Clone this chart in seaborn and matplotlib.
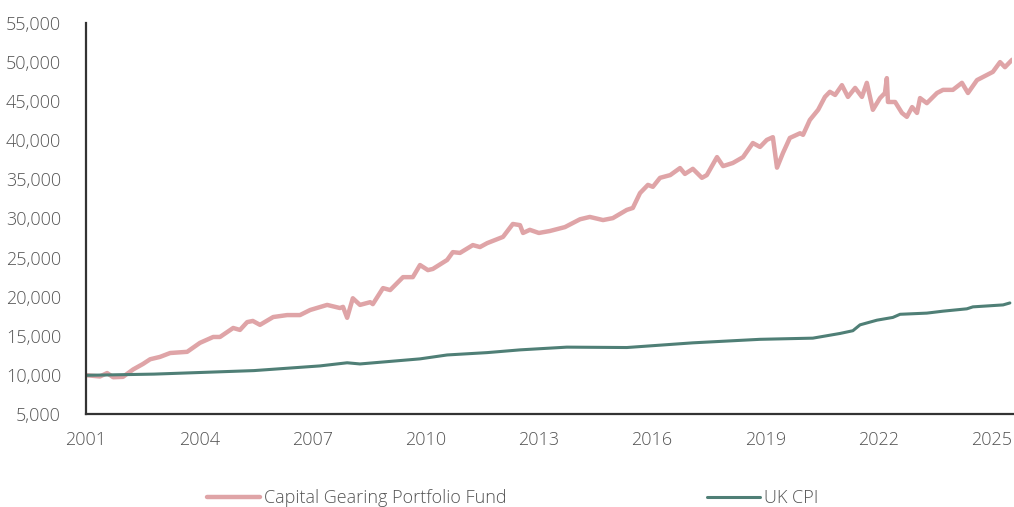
import pandas as pd
import matplotlib.pyplot as plt
import seaborn as sns

# fund values (decimal year, value)
fund_years = [2001.03, 2001.37, 2001.56, 2001.72, 2001.98, 2002.25, 2002.51, 2002.70, 2002.96, 2003.23,
              2003.68, 2004.02, 2004.37, 2004.55, 2004.90, 2005.08, 2005.27, 2005.42, 2005.61, 2005.96,
              2006.33, 2006.67, 2006.94, 2007.39, 2007.73, 2007.81, 2007.92, 2008.07, 2008.26, 2008.53,
              2008.60, 2008.87, 2009.06, 2009.40, 2009.66, 2009.85, 2010.06, 2010.19, 2010.57, 2010.72,
              2010.91, 2011.25, 2011.44, 2011.63, 2012.05, 2012.31, 2012.50, 2012.58, 2012.76, 2013.00,
              2013.29, 2013.69, 2014.09, 2014.35, 2014.70, 2014.96, 2015.33, 2015.49, 2015.68, 2015.89,
              2016.02, 2016.21, 2016.48, 2016.74, 2016.87, 2017.08, 2017.32, 2017.45, 2017.72, 2017.88,
              2018.14, 2018.41, 2018.67, 2018.86, 2019.04, 2019.20, 2019.31, 2019.47, 2019.65, 2019.92,
              2020.00, 2020.18, 2020.40, 2020.58, 2020.71, 2020.85, 2021.03, 2021.19, 2021.38, 2021.56,
              2021.69, 2021.85, 2022.04, 2022.17, 2022.22, 2022.25, 2022.44, 2022.62, 2022.75, 2022.89,
              2023.02, 2023.10, 2023.28, 2023.55, 2023.71, 2023.97, 2024.21, 2024.37, 2024.61, 2024.87,
              2025.03, 2025.22, 2025.35, 2025.54]
fund_values = [9950, 9800, 10240, 9700, 9750, 10700, 11400, 12000, 12300, 12800,
               12950, 14100, 14850, 14850, 16000, 15750, 16750, 16900, 16400, 17400,
               17650, 17650, 18300, 18950, 18550, 18700, 17300, 19800, 18950, 19300,
               19050, 21100, 20850, 22500, 22500, 24050, 23400, 23550, 24700, 25700,
               25600, 26600, 26350, 26850, 27650, 29300, 29150, 28150, 28550, 28150,
               28400, 28900, 29900, 30200, 29800, 30050, 31100, 31350, 33250, 34300,
               34050, 35200, 35550, 36450, 35700, 36350, 35200, 35550, 37850, 36700,
               37100, 37850, 39650, 39150, 40050, 40400, 36500, 38400, 40300, 40900,
               40700, 42600, 43900, 45550, 46200, 45800, 47050, 45550, 46700, 45550,
               47350, 43900, 45400, 46050, 47950, 44900, 44900, 43500, 43000, 44250,
               43500, 45400, 44750, 46050, 46450, 46450, 47350, 46050, 47700, 48350,
               48750, 50000, 49350, 50300]

cpi_years = [2001.03, 2002.80, 2005.45, 2007.20, 2007.92, 2008.26, 2009.85, 2010.57, 2011.63, 2012.50,
             2013.74, 2015.33, 2017.08, 2018.86, 2020.26, 2020.98, 2021.32, 2021.51, 2021.96, 2022.38,
             2022.57, 2023.28, 2023.71, 2024.34, 2024.50, 2025.30, 2025.48]
cpi_values = [9950, 10100, 10550, 11150, 11550, 11400, 12050, 12550, 12850, 13200,
              13550, 13500, 14100, 14550, 14700, 15300, 15650, 16400, 17000, 17350,
              17750, 17900, 18150, 18450, 18700, 18950, 19200]

year_ticks = [2001, 2004, 2007, 2010, 2013, 2016, 2019, 2022, 2025]
value_ticks = list(range(5000, 55001, 5000))

sns.set_style('white')
plt.rcParams['font.family'] = ['Open Sans', 'DejaVu Sans']

fund = pd.DataFrame({'year': fund_years, 'value': fund_values})
cpi = pd.DataFrame({'year': cpi_years, 'value': cpi_values})

fig = plt.figure(figsize=(10.14, 5.07), dpi=100)
ax = fig.add_axes([86 / 1014, 1 - 414 / 507, 926.5 / 1014, 391 / 507])

sns.lineplot(data=fund, x='year', y='value', ax=ax, color='#dfa4a7', linewidth=3.2,
             solid_joinstyle='round', label='Capital Gearing Portfolio Fund')
sns.lineplot(data=cpi, x='year', y='value', ax=ax, color='#4f7f76', linewidth=2.2,
             solid_joinstyle='round', label='UK CPI')

ax.set_xlim(2001.0, 2025.55)
ax.set_ylim(5000, 55000)
ax.set_xticks(year_ticks)
ax.set_xticklabels([str(y) for y in year_ticks])
ax.set_yticks(value_ticks)
ax.set_yticklabels([f'{v:,}' for v in value_ticks])
ax.set_xlabel('')
ax.set_ylabel('')
ax.tick_params(axis='both', length=0, labelsize=13, labelcolor='#555555')
ax.tick_params(axis='y', pad=18)
ax.tick_params(axis='x', pad=12)
for lbl in ax.get_xticklabels() + ax.get_yticklabels():
    lbl.set_fontweight('light')

sns.despine(ax=ax)
for s in ['left', 'bottom']:
    ax.spines[s].set_color('#333333')
    ax.spines[s].set_linewidth(1.6)

handles, labels = ax.get_legend_handles_labels()
ax.get_legend().remove()
leg = fig.legend(handles, labels, loc='center', bbox_to_anchor=(513 / 1014, 0.018), ncol=2,
                 frameon=False, fontsize=13, handlelength=2.9, handletextpad=0.25,
                 columnspacing=11.1, labelcolor='#555555')
for t in leg.get_texts():
    t.set_fontweight('light')

fig.savefig('out.png', dpi=100)
